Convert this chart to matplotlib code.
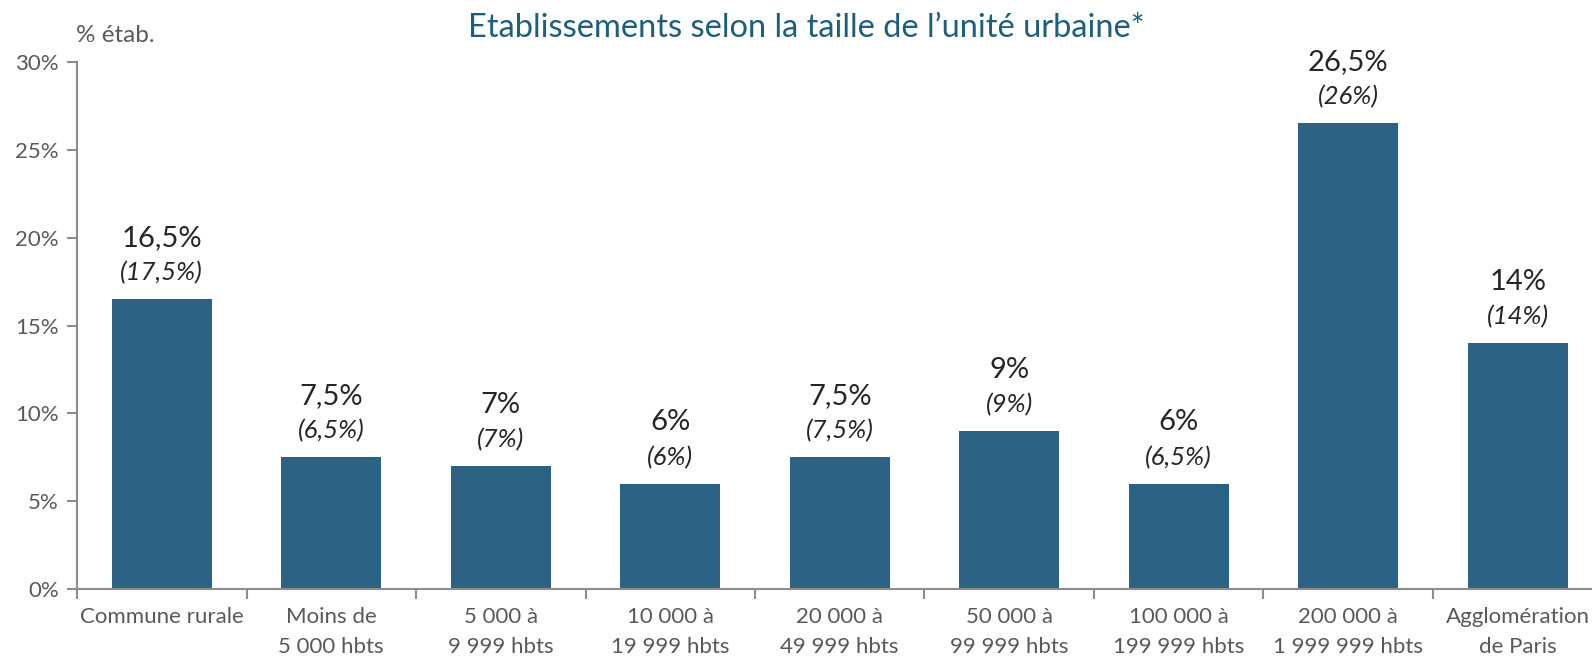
import matplotlib
matplotlib.use("Agg")
import matplotlib.pyplot as plt
import numpy as np

categories = ["Commune rurale", "Moins de\n5 000 hbts", "5 000 à\n9 999 hbts",
              "10 000 à\n19 999 hbts", "20 000 à\n49 999 hbts", "50 000 à\n99 999 hbts",
              "100 000 à\n199 999 hbts", "200 000 à\n1 999 999 hbts", "Agglomération\nde Paris"]
values = [16.5, 7.5, 7, 6, 7.5, 9, 6, 26.5, 14]
main_labels = ["16,5%", "7,5%", "7%", "6%", "7,5%", "9%", "6%", "26,5%", "14%"]
sub_labels = ["(17,5%)", "(6,5%)", "(7%)", "(6%)", "(7,5%)", "(9%)", "(6,5%)", "(26%)", "(14%)"]
yticks = [0, 5, 10, 15, 20, 25, 30]
ytick_labels = ["0%", "5%", "10%", "15%", "20%", "25%", "30%"]
title = "Etablissements selon la taille de l\u2019unité urbaine*"
ylabel = "% étab."

plt.rcParams['font.family'] = ['Lato', 'DejaVu Sans']

W, H = 1592, 658
fig = plt.figure(figsize=(W / 100, H / 100), dpi=100)
left, bottom = 77 / W, (H - 589) / H
ax = fig.add_axes([left, bottom, 9 * 169.5 / W, (589 - 62) / H])

bar_color = "#2C6384"
gray = "#8C8C8C"
text_gray = "#595959"
x = np.arange(len(categories))
ax.bar(x, values, width=0.59, color=bar_color, zorder=2)
ax.set_xlim(-0.5, len(categories) - 0.5)
ax.set_ylim(0, 30)

for xi, v, m, s in zip(x, values, main_labels, sub_labels):
    ax.annotate(m, (xi, v), xytext=(0, 44), textcoords="offset points",
                ha="center", va="center", fontsize=21, color="#262626")
    ax.annotate(s, (xi, v), xytext=(0, 19), textcoords="offset points",
                ha="center", va="center", fontsize=18.5, color="#262626", style="italic")

ax.set_yticks(yticks)
ax.set_yticklabels(ytick_labels, fontsize=16, color=text_gray)
ax.set_xticks(x)
ax.set_xticklabels(categories, fontsize=16, color=text_gray, linespacing=1.6)
ax.tick_params(axis="x", length=0, pad=13)
ax.set_xticks(np.arange(-0.5, len(categories), 1), minor=True)
ax.tick_params(axis="x", which="minor", length=7, color=gray, width=1.5)
ax.tick_params(axis="y", length=7, color=gray, width=1.5, pad=6)

for sp in ["top", "right"]:
    ax.spines[sp].set_visible(False)
for sp in ["left", "bottom"]:
    ax.spines[sp].set_color(gray)
    ax.spines[sp].set_linewidth(1.5)

fig.text(76 / W, 1 - 36 / H, ylabel, fontsize=17.5, color=text_gray, ha="left", va="center")
fig.text(806 / W, 1 - 28 / H, title, fontsize=23.5, color="#1B5F7C", ha="center", va="center")

fig.savefig("out.png", dpi=100)
